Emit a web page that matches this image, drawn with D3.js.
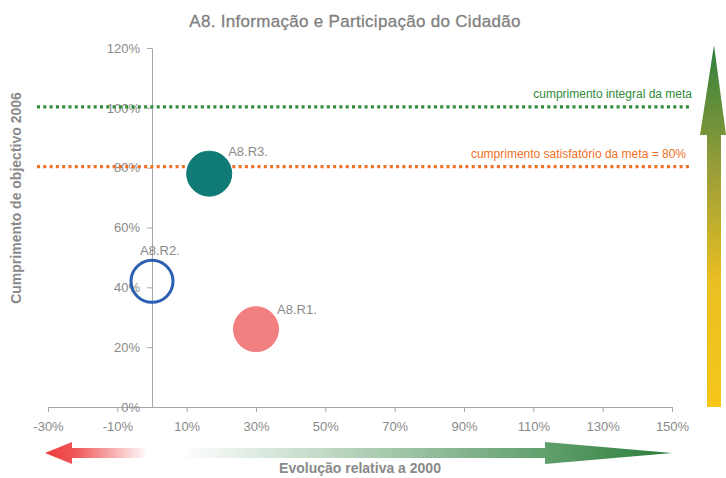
<!DOCTYPE html>
<html>
<head>
<meta charset="utf-8">
<script src="https://cdn.jsdelivr.net/npm/d3@7"></script>
<style>
  html, body { margin: 0; padding: 0; background: #fff; }
  svg { display: block; font-family: "Liberation Sans", Arial, sans-serif; }
</style>
</head>
<body>
<svg id="chart" width="726" height="478"></svg>
<script>
// Indicator names and their values
const names = ["A8.R1.", "A8.R2.", "A8.R3."];
const evolucao = [30, 0, 16.5];       // relative evolution vs 2000 (%)
const cumprimento = [26, 42, 78];     // 2006 goal fulfilment (%)

// Axis ticks
const xTicks = [-30, -10, 10, 30, 50, 70, 90, 110, 130, 150];
const yTicks = [0, 20, 40, 60, 80, 100, 120];

// Reference lines
const refValues = [100, 80];
const refLabels = ["cumprimento integral da meta", "cumprimento satisfatório da meta = 80%"];

const title = "A8. Informação e Participação do Cidadão";
const yTitle = "Cumprimento de objectivo 2006";
const xTitle = "Evolução relativa a 2000";

const svg = d3.select("#chart");
const grey = "#8a8a8a";

const x = d3.scaleLinear().domain([-30, 150]).range([48, 672]);
const y = d3.scaleLinear().domain([0, 120]).range([407, 48]);

// Gradients
const defs = svg.append("defs");
const gUp = defs.append("linearGradient").attr("id", "gUp")
  .attr("x1", 0).attr("y1", 1).attr("x2", 0).attr("y2", 0);
gUp.append("stop").attr("offset", "0%").attr("stop-color", "#f6c61a");
gUp.append("stop").attr("offset", "35%").attr("stop-color", "#e9bf22");
gUp.append("stop").attr("offset", "65%").attr("stop-color", "#9a9e38");
gUp.append("stop").attr("offset", "100%").attr("stop-color", "#2e7f3c");

const gGreen = defs.append("linearGradient").attr("id", "gGreen")
  .attr("gradientUnits", "userSpaceOnUse")
  .attr("x1", 180).attr("y1", 0).attr("x2", 672).attr("y2", 0);
gGreen.append("stop").attr("offset", "0%").attr("stop-color", "#ffffff");
gGreen.append("stop").attr("offset", "100%").attr("stop-color", "#2a7e3a");

const gRed = defs.append("linearGradient").attr("id", "gRed")
  .attr("gradientUnits", "userSpaceOnUse")
  .attr("x1", 45).attr("y1", 0).attr("x2", 148).attr("y2", 0);
gRed.append("stop").attr("offset", "0%").attr("stop-color", "#ee3b3b");
gRed.append("stop").attr("offset", "30%").attr("stop-color", "#f0595a");
gRed.append("stop").attr("offset", "100%").attr("stop-color", "#ffffff");

// Title
svg.append("text")
  .attr("x", 355).attr("y", 27)
  .attr("text-anchor", "middle")
  .attr("font-size", 17)
  .attr("letter-spacing", 0.3)
  .attr("stroke", "#7f7f7f").attr("stroke-width", 0.3)
  .attr("fill", "#7f7f7f")
  .text(title);

// X axis along y = 0
const xAxis = d3.axisBottom(x).tickValues(xTicks)
  .tickFormat(d => d + "%").tickSize(5).tickSizeOuter(0);
const gx = svg.append("g").attr("transform", `translate(0,${y(0)})`).call(xAxis);
gx.select(".domain").attr("stroke", "#a6a6a6");
gx.selectAll(".tick line").attr("stroke", "#a6a6a6");
gx.selectAll(".tick text").attr("fill", grey).attr("font-size", 13)
  .attr("font-family", "Liberation Sans, Arial, sans-serif").attr("dy", "1.25em");

// Y axis along x = 0
const yAxis = d3.axisLeft(y).tickValues(yTicks)
  .tickFormat(d => d + "%").tickSize(5).tickSizeOuter(0);
const gy = svg.append("g").attr("transform", `translate(${x(0)},0)`).call(yAxis);
gy.select(".domain").attr("stroke", "#a6a6a6");
gy.selectAll(".tick line").attr("stroke", "#a6a6a6");
gy.selectAll(".tick text").attr("fill", grey).attr("font-size", 13)
  .attr("font-family", "Liberation Sans, Arial, sans-serif").attr("x", -12);

// Reference lines (dotted) with labels
const refColors = ["#2f8a3a", "#f07026"];
svg.selectAll("line.ref").data(refValues).join("line")
  .attr("class", "ref")
  .attr("x1", 37).attr("x2", 692)
  .attr("y1", d => y(d) - 1).attr("y2", d => y(d) - 1)
  .attr("stroke", (d, i) => refColors[i])
  .attr("stroke-width", 3.2)
  .attr("stroke-dasharray", "3,3.3");
svg.selectAll("text.ref").data(refLabels).join("text")
  .attr("class", "ref")
  .attr("x", (d, i) => i === 0 ? 692 : 686)
  .attr("y", (d, i) => y(refValues[i]) - 10)
  .attr("text-anchor", "end")
  .attr("font-size", 12)
  .attr("fill", (d, i) => refColors[i])
  .text(d => d);

// Bubbles
const bubbleFill = ["#f38080", "#ffffff", "#0f7b74"];
const bubbleStroke = ["#f38080", "#2b5fb2", "#0f7b74"];
const bubbleStrokeW = [1, 3, 1];
const labelDx = [21, -12, 19];
const labelDy = [-15, -26, -18];
const r = 22.5;

const pts = names.map((n, i) => ({ n, i, xv: evolucao[i], yv: cumprimento[i] }));
svg.selectAll("circle.b").data(pts).join("circle")
  .attr("class", "b")
  .attr("cx", d => x(d.xv)).attr("cy", d => y(d.yv))
  .attr("r", d => d.i === 1 ? r - 1.5 : r)
  .attr("fill", d => bubbleFill[d.i])
  .attr("fill-opacity", d => d.i === 1 ? 0 : 1)
  .attr("stroke", d => bubbleStroke[d.i])
  .attr("stroke-width", d => bubbleStrokeW[d.i]);
svg.selectAll("text.bl").data(pts).join("text")
  .attr("class", "bl")
  .attr("x", d => x(d.xv) + labelDx[d.i])
  .attr("y", d => y(d.yv) + labelDy[d.i])
  .attr("font-size", 13).attr("fill", grey)
  .text(d => d.n);

// Y axis title
svg.append("text")
  .attr("transform", "translate(21,198) rotate(-90)")
  .attr("text-anchor", "middle")
  .attr("font-size", 14).attr("font-weight", "bold")
  .attr("fill", grey)
  .text(yTitle);

// X axis title
svg.append("text")
  .attr("x", 360).attr("y", 473)
  .attr("text-anchor", "middle")
  .attr("font-size", 14).attr("font-weight", "bold")
  .attr("fill", grey)
  .text(xTitle);

// Horizontal arrows under the x axis
const ay = 453;
svg.append("path")
  .attr("d", `M45,${ay} L72,${ay - 11} L72,${ay - 5} L150,${ay - 5} L150,${ay + 5} L72,${ay + 5} L72,${ay + 11} Z`)
  .attr("fill", "url(#gRed)");
svg.append("path")
  .attr("d", `M180,${ay - 5} L545,${ay - 5} L545,${ay - 11} L672,${ay} L545,${ay + 11} L545,${ay + 5} L180,${ay + 5} Z`)
  .attr("fill", "url(#gGreen)");

// Vertical arrow on the right
svg.append("path")
  .attr("d", "M707,407 L707,135 L700,135 L714,45 L726,135 L721,135 L721,407 Z")
  .attr("fill", "url(#gUp)");
</script>
</body>
</html>
